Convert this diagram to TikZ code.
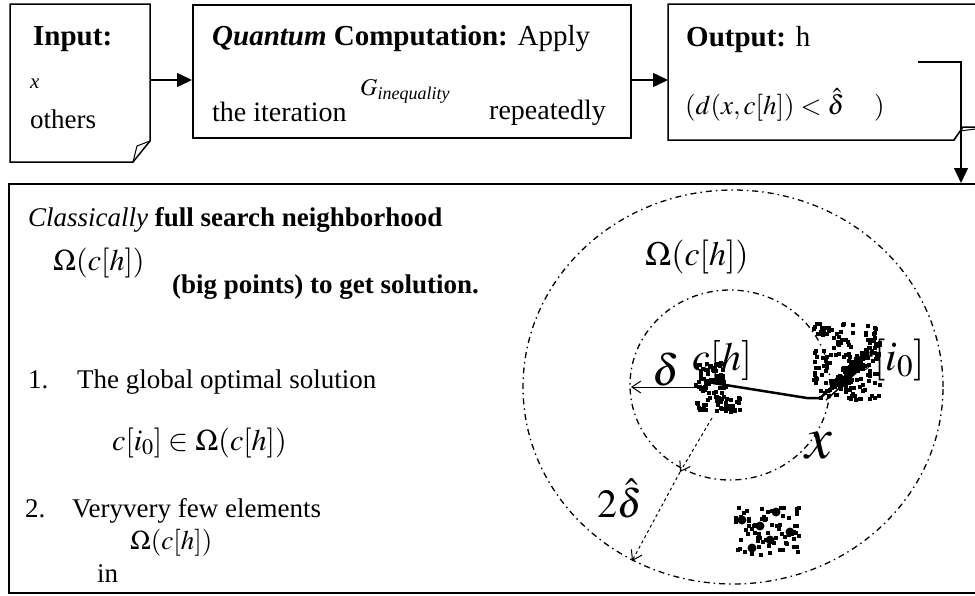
\documentclass[tikz,border=0pt]{standalone}
\usepackage{mathptmx}
\usepackage{fontspec}
\setmainfont{Liberation Serif}
\usetikzlibrary{arrows.meta}
\newcommand{\fs}[1]{\fontsize{#1}{#1}\selectfont}
\begin{document}
\begin{tikzpicture}[x=1pt,y=-1pt,
  box/.style={draw=black, line width=1.5pt},
  farr/.style={line width=1.5pt, -{Triangle[length=15pt,width=14pt]}},
  lbl/.style={inner sep=0pt, anchor=base west},
  oarr/.style={line width=1pt, -{Straight Barb[length=9pt,width=12pt]}},
  circ/.style={line width=1.3pt, dash pattern=on 6pt off 4pt on 1.5pt off 4pt},
  dotsq/.style={fill=black}]
\useasboundingbox (0,0) rectangle (975,595);
\clip (0,0) rectangle (975,595);
\fill[white] (0,0) rectangle (975,595);

% ---------- top boxes ----------
\node[inner sep=0pt, minimum width=140pt, minimum height=158pt, anchor=north west] (in) at (10,4) {};
\draw[box, line join=miter] (10,4) -- (150,4) -- (150,141) -- (133,162) -- (10,162) -- cycle;
\draw[line width=1pt] (133,162) -- (137,146) -- (150,141);

\node[box, inner sep=0pt, minimum width=438pt, minimum height=133pt, anchor=north west] (q) at (192,4) {};

\node[inner sep=0pt, minimum width=330pt, minimum height=136pt, anchor=north west] (out) at (668,4) {};
\draw[box, line join=miter] (668,4) -- (1000,4) -- (1000,127) -- (963,127) -- (954,140) -- (668,140) -- cycle;
\draw[line width=1pt] (954,140) -- (960,131) -- (975,129);

\node[box, inner sep=0pt, minimum width=1000pt, minimum height=409pt, anchor=north west] (big) at (8,183) {};

% ---------- connectors ----------
\coordinate (ay) at (0,80);
\draw[farr] (in.east |- ay) -- (q.west |- ay);
\draw[farr] (q.east |- ay) -- (out.west |- ay);
\coordinate (c0) at (918,62);
\coordinate (cx) at (961,0);
\draw[farr] (c0) -- (c0 -| cx) -- (cx |- big.north);

% ---------- top texts ----------
\node[lbl, font=\fs{29}\bfseries] (t1) at (33,45) {Input:};
\node[lbl, font=\fs{21}\itshape] (t2) at (30,88) {x};
\node[lbl, font=\fs{27}] (t3) at (30,128) {others};
\node[lbl, font=\fs{29}] (t4) at (212,45) {\textbf{\textit{Quantum}} \textbf{Computation:} Apply};
\node[lbl, font=\fs{28}] (t5) at (212,121) {the iteration};
\node[lbl, font=\fs{24}] (t6) at (360,95) {$G_{\mbox{\fs{18}\itshape inequality}}$};
\node[lbl, font=\fs{28}, anchor=base east] (t7) at (606,119) {repeatedly};
\node[lbl, font=\fs{29}] (t8) at (686,46) {\textbf{Output:} h};
\node[lbl, font=\fs{27}] (t9) at (685,114) {$(d(x,c[h]) < \hat{\delta}\hspace{30pt})$};

% ---------- bottom-left texts ----------
\node[lbl, font=\fs{27}] (b1) at (28,226) {\textit{Classically} \textbf{full search neighborhood}};
\node[lbl, font=\fs{30}] (b2) at (53,270) {$\Omega(c[h])$};
\node[lbl, font=\fs{27}] (b3) at (172,293) {\textbf{(big points) to get solution.}};
\node[lbl, font=\fs{27}] (b4) at (28,388) {1.};
\node[lbl, font=\fs{27}] (b5) at (77,388) {The global optimal solution};
\node[lbl, font=\fs{30}] (b6) at (112,450) {$c[i_0]\in\Omega(c[h])$};
\node[lbl, font=\fs{27}] (b7) at (25,517) {2.};
\node[lbl, font=\fs{27}] (b8) at (72,517) {Veryvery few elements};
\node[lbl, font=\fs{27}] (b9) at (130,549) {$\Omega(c[h])$};
\node[lbl, font=\fs{27}] (b10) at (97,582) {in};

% ---------- neighbourhood circles ----------
\draw[circ] (733,387) ellipse [x radius=210pt, y radius=197pt];
\draw[circ] (730,385) ellipse [x radius=100pt, y radius=95pt];

\node[lbl, font=\fs{34}] (om) at (645,265) {$\Omega(c[h])$};
\node[lbl, font=\fs{40}] (ch) at (692,370) {$c[h]$};
\node[lbl, font=\fs{42}] (ci) at (855,370) {$c[i_0]$};
\node[lbl, font=\fs{44}] (dl) at (652,385) {$\delta$};
\node[lbl, font=\fs{40}] (d2) at (597,517) {$2\hat{\delta}$};
\node[lbl, font=\fs{60}] (xl) at (805,458) {$x$};

% delta arrow and radius arrows
\coordinate (pc) at (700,387);
\coordinate (pl) at (631,387);
\draw[oarr] (pc) -- (pl);
\coordinate (r0) at (712,418);
\coordinate (r1) at (680,472);
\coordinate (r2) at (632,561);
\draw[oarr, dashed] (r0) -- (r1);
\draw[oarr, dashed] (r1) -- (r2);

% path from c[h] towards c[i0]
\coordinate (pch) at (713,383);
\coordinate (pci) at (852,370);
\draw[line width=2.5pt, line join=round] (pch) -- (807,398) -- (820,398) -- (pci);
\draw[line width=1.5pt] (826,400) -- (857,372);

% ---------- point clouds ----------
\pgfmathsetseed{5}
\foreach \i in {1,...,85} \fill[dotsq] ({709+15*rand},{385+24*rand}) rectangle ++(4,4);
\foreach \i in {1,...,25} \fill[dotsq] ({728+10*rand},{403+8*rand}) rectangle ++(4,4);
\foreach \i in {1,...,170} \fill[dotsq] ({845+33*rand},{360+38*rand}) rectangle ++(4,4);
\foreach \i in {1,...,60} {\pgfmathsetmacro\tt{rand}
  \fill[dotsq] ({852+22*\tt+6*rand},{366-22*\tt+6*rand}) rectangle ++(4.5,4.5);}
\foreach \i in {1,...,75} \fill[dotsq] ({765+32*rand},{530+24*rand}) rectangle ++(4,4);
\foreach \p in {(742,520),(752,548),(776,512),(790,532),(760,526),(770,540)} \fill[dotsq] \p circle (4.5pt);
\end{tikzpicture}
\end{document}
